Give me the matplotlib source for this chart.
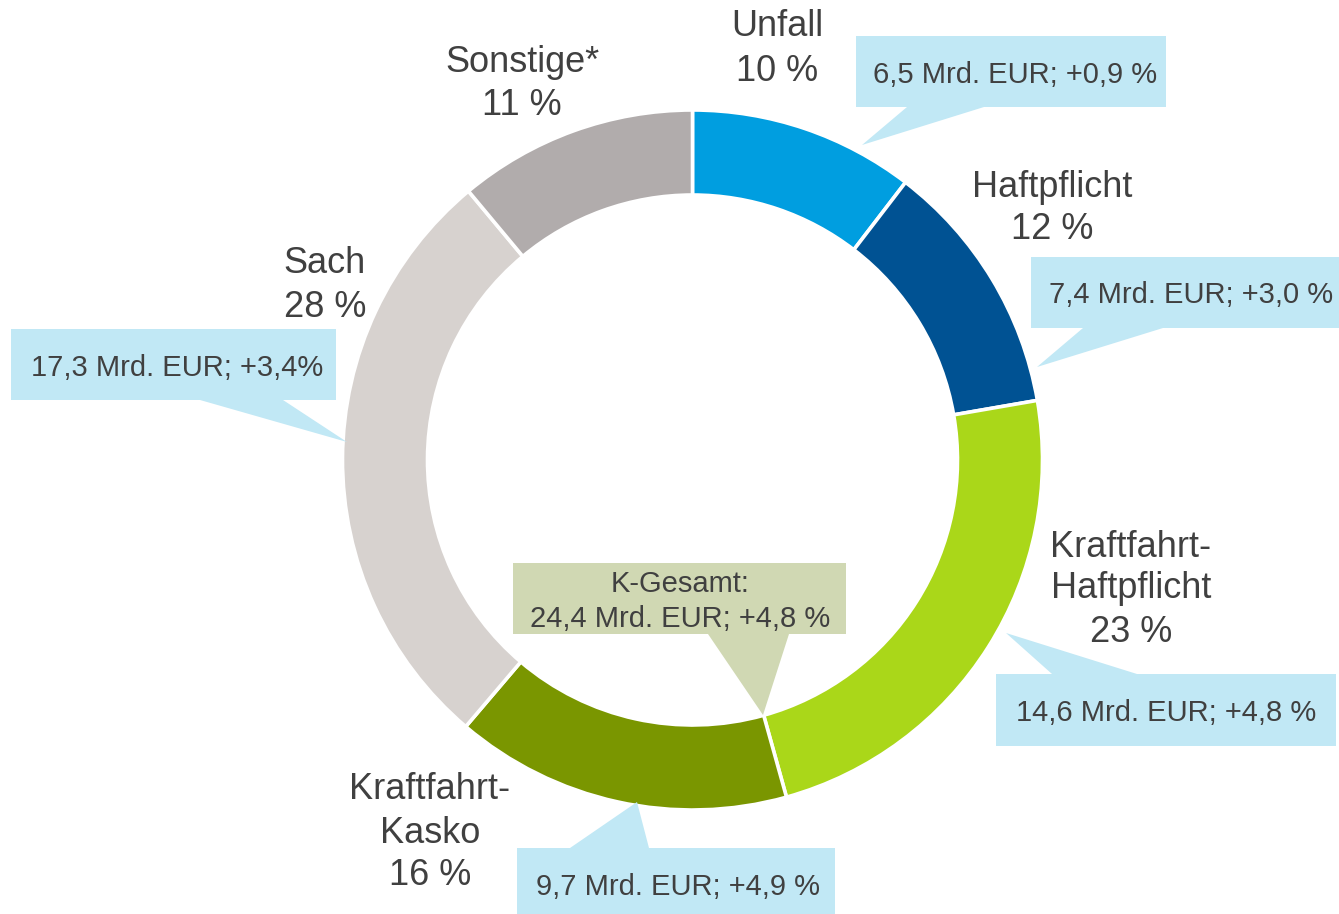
import matplotlib
matplotlib.use("Agg")
import matplotlib.pyplot as plt
from matplotlib.patches import Polygon

# ---------------- data ----------------
categories = ["Unfall", "Haftpflicht", "Kraftfahrt-Haftpflicht", "Kraftfahrt-Kasko", "Sach", "Sonstige*"]
label_lines = [["Unfall"], ["Haftpflicht"], ["Kraftfahrt-", "Haftpflicht"],
               ["Kraftfahrt-", "Kasko"], ["Sach"], ["Sonstige*"]]
volumes = [6.5, 7.4, 14.6, 9.7, 17.3, 6.9]          # Mrd. EUR
shares = [10, 12, 23, 16, 28, 11]                    # %
growth = ["+0,9 %", "+3,0 %", "+4,8 %", "+4,9 %", "+3,4%", None]
colors = ["#009EE0", "#005293", "#AAD719", "#7A9600", "#D7D2CF", "#B1ACAC"]
k_total = 24.4
k_growth = "+4,8 %"

# ---------------- layout ----------------
W, H = 1339, 914
TXT = "#404040"
BLUE_BOX = "#C1E8F5"
K_BOX = "#D0D8B3"
FONT = "Liberation Sans"

fig = plt.figure(figsize=(W / 100, H / 100), dpi=100)
ax = fig.add_axes([0, 0, 1, 1])

def fy(y):
    return H - y

ax.pie(volumes, colors=colors, startangle=90, counterclock=False,
       radius=350, center=(692.5, fy(460)),
       wedgeprops=dict(width=85, edgecolor="white", linewidth=2.6))
ax.set_xlim(0, W)
ax.set_ylim(0, H)
ax.set_aspect("auto")
ax.axis("off")

# category labels: (x centre, baselines)
label_pos = [
    (777, [36, 81]),
    (1052, [197, 239]),
    (1131, [557, 598, 642]),
    (430, [799, 843, 885]),
    (325, [273, 317]),
    (522, [72, 115]),
]
for lines, share, (x, bases) in zip(label_lines, shares, label_pos):
    texts = lines + [f"{share} %"]
    for t, b in zip(texts, bases):
        ax.text(x, fy(b), t, ha="center", va="baseline", fontsize=26,
                color=TXT, family=FONT, zorder=5)

def callout(box, tail, color):
    x0, y0, x1, y1 = box
    pts = [(x0, y0), (x1, y0), (x1, y1), (x0, y1)]
    ax.add_patch(Polygon([(x, fy(y)) for x, y in pts], closed=True,
                         facecolor=color, edgecolor="none", zorder=3))
    ax.add_patch(Polygon([(x, fy(y)) for x, y in tail], closed=True,
                         facecolor=color, edgecolor="none", zorder=3))

# callouts: box (x0, top, x1, bottom), tail triangle, text (x, baseline)
callouts = [
    ((856, 36, 1166, 107), [(907, 107), (984, 107), (862, 145)], (1015, 83)),
    ((1031, 257, 1345, 328), [(1083, 328), (1163, 328), (1037, 367)], (1191, 303)),
    ((996, 674, 1336, 746), [(1052, 674), (1137, 674), (1006, 633)], (1166, 721)),
    ((517, 848, 835, 925), [(570, 848), (649, 848), (637, 802)], (678, 895)),
    ((11, 329, 336, 400), [(200, 400), (283, 400), (347, 442)], (177, 376)),
]

def fmt(v):
    return f"{v:.1f}".replace(".", ",")

for i, (box, tail, (tx, tb)) in enumerate(callouts):
    callout(box, tail, BLUE_BOX)
    ax.text(tx, fy(tb), f"{fmt(volumes[i])} Mrd. EUR; {growth[i]}",
            ha="center", va="baseline", fontsize=21, color=TXT,
            family=FONT, zorder=5)

# K-Gesamt callout
callout((513, 563, 846, 634), [(708, 634), (789, 634), (763, 715)], K_BOX)
ax.text(680, fy(592), "K-Gesamt:", ha="center", va="baseline",
        fontsize=21, color=TXT, family=FONT, zorder=5)
ax.text(680, fy(627), f"{fmt(k_total)} Mrd. EUR; {k_growth}", ha="center",
        va="baseline", fontsize=21, color=TXT, family=FONT, zorder=5)

fig.savefig("out.png", dpi=100)
